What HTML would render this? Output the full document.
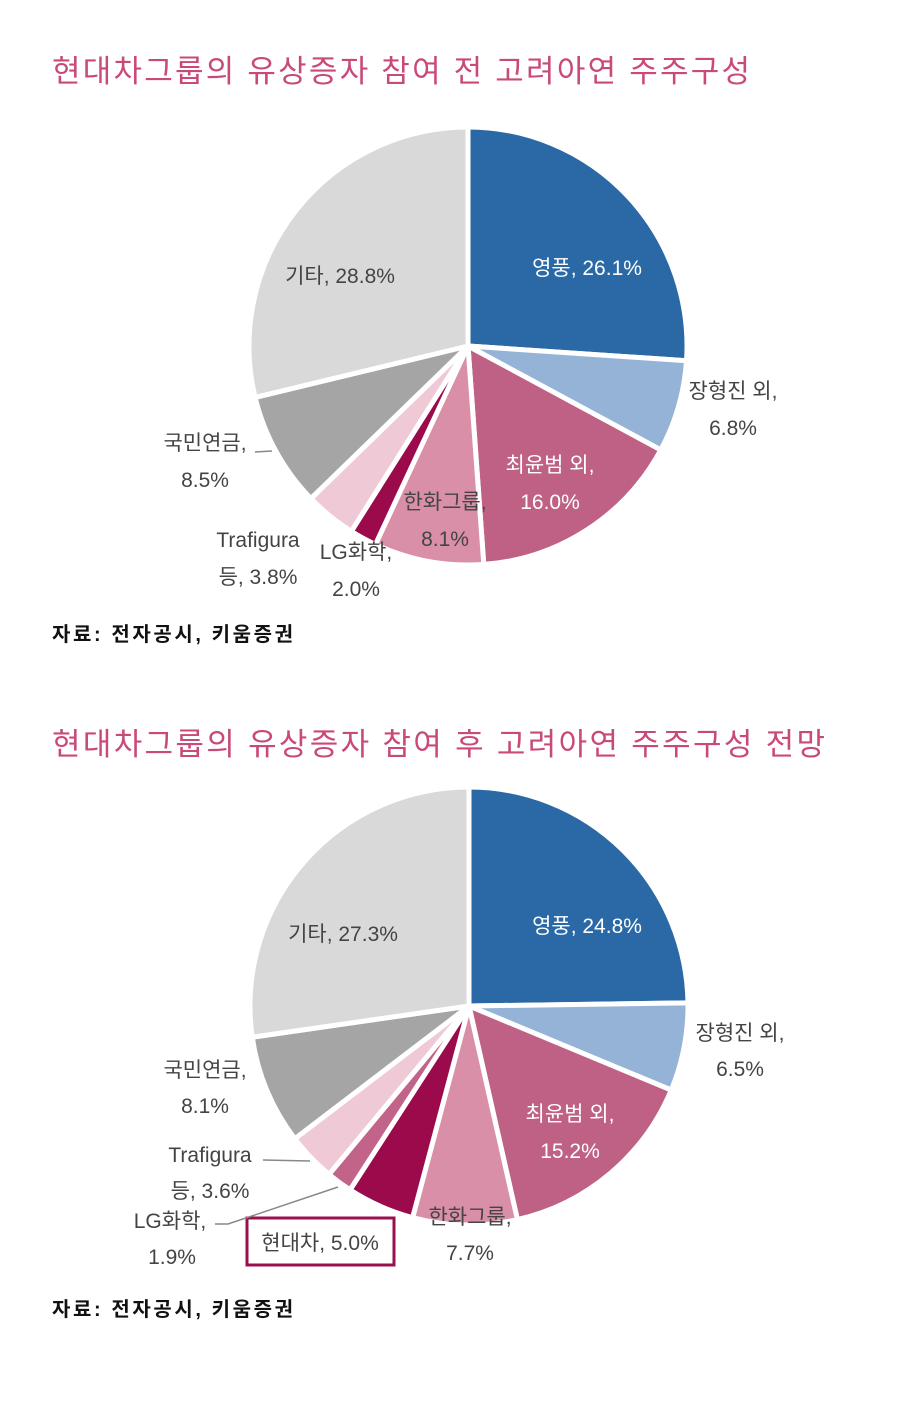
<!DOCTYPE html>
<html><head><meta charset="utf-8">
<style>
body{margin:0;background:#fff;width:900px;height:1428px;overflow:hidden;font-family:"Liberation Sans","Noto Sans CJK KR",sans-serif;}
svg{position:absolute;left:0;top:0}
</style></head><body>
<svg id="s" width="900" height="1428" xmlns="http://www.w3.org/2000/svg" font-family="Liberation Sans, Noto Sans CJK KR, sans-serif">
<g id="p1"></g><g id="p2"></g>
<text x="52" y="82" font-size="31" fill="#c9497a" textLength="698" lengthAdjust="spacing">현대차그룹의 유상증자 참여 전 고려아연 주주구성</text>
<text x="52" y="755" font-size="31" fill="#c9497a" textLength="773" lengthAdjust="spacing">현대차그룹의 유상증자 참여 후 고려아연 주주구성 전망</text>
<text x="52" y="641" font-size="20" fill="#111" font-weight="600" textLength="241" lengthAdjust="spacing">자료: 전자공시, 키움증권</text>
<text x="52" y="1316" font-size="20" fill="#111" font-weight="600" textLength="241" lengthAdjust="spacing">자료: 전자공시, 키움증권</text>
<g font-size="21" fill="#444" text-anchor="middle">
<text x="587" y="275" fill="#fff">영풍, 26.1%</text>
<text x="733" y="398">장형진 외,</text><text x="733" y="435">6.8%</text>
<text x="550" y="472" fill="#fff">최윤범 외,</text><text x="550" y="509" fill="#fff">16.0%</text>
<text x="445" y="509">한화그룹,</text><text x="445" y="546">8.1%</text>
<text x="356" y="559">LG화학,</text><text x="356" y="596">2.0%</text>
<text x="258" y="547">Trafigura</text><text x="258" y="584">등, 3.8%</text>
<text x="205" y="450">국민연금,</text><text x="205" y="487">8.5%</text>
<text x="340" y="283">기타, 28.8%</text>

<text x="587" y="933" fill="#fff">영풍, 24.8%</text>
<text x="740" y="1040">장형진 외,</text><text x="740" y="1076">6.5%</text>
<text x="570" y="1121" fill="#fff">최윤범 외,</text><text x="570" y="1158" fill="#fff">15.2%</text>
<text x="470" y="1224">한화그룹,</text><text x="470" y="1260">7.7%</text>
<text x="320" y="1250">현대차, 5.0%</text>
<text x="170" y="1228">LG화학,</text><text x="172" y="1264">1.9%</text>
<text x="210" y="1162">Trafigura</text><text x="210" y="1198">등, 3.6%</text>
<text x="205" y="1077">국민연금,</text><text x="205" y="1113">8.1%</text>
<text x="343" y="941">기타, 27.3%</text>
</g>
<rect x="247" y="1218" width="147" height="47" fill="none" stroke="#98104c" stroke-width="3"/>
<g stroke="#888" stroke-width="1.5" fill="none">
<line x1="255" y1="452" x2="272" y2="451"/>
<line x1="263" y1="1160" x2="310" y2="1161"/>
<polyline points="215,1224 228,1224 338,1187"/>
</g>
</svg>
<script>
function pie(id,cx,cy,r,data){
 var g=document.getElementById(id),a=0,tot=0;
 data.forEach(function(d){tot+=d[0];});
 data.forEach(function(d){
  var a1=a+d[0]/tot*2*Math.PI;
  var x0=cx+r*Math.sin(a),y0=cy-r*Math.cos(a),x1=cx+r*Math.sin(a1),y1=cy-r*Math.cos(a1);
  var p=document.createElementNS("http://www.w3.org/2000/svg","path");
  p.setAttribute("d","M"+cx+","+cy+"L"+x0+","+y0+"A"+r+","+r+" 0 "+((a1-a)>Math.PI?1:0)+" 1 "+x1+","+y1+"Z");
  p.setAttribute("fill",d[1]);p.setAttribute("stroke","#fff");p.setAttribute("stroke-width","5");p.setAttribute("stroke-linejoin","round");
  g.appendChild(p);a=a1;
 });
}
pie("p1",468,346,219,[[26.1,"#2a69a6"],[6.8,"#94b3d7"],[16.0,"#bf6184"],[8.1,"#d98fa8"],[2.0,"#9b0b4c"],[3.8,"#efc9d5"],[8.5,"#a5a5a5"],[28.8,"#d9d9d9"]]);
pie("p2",469,1006,219,[[24.8,"#2a69a6"],[6.5,"#94b3d7"],[15.2,"#bf6184"],[7.7,"#d98fa8"],[5.0,"#9b0b4c"],[1.9,"#c2638a"],[3.6,"#efc9d5"],[8.1,"#a5a5a5"],[27.3,"#d9d9d9"]]);
</script>
</body></html>
